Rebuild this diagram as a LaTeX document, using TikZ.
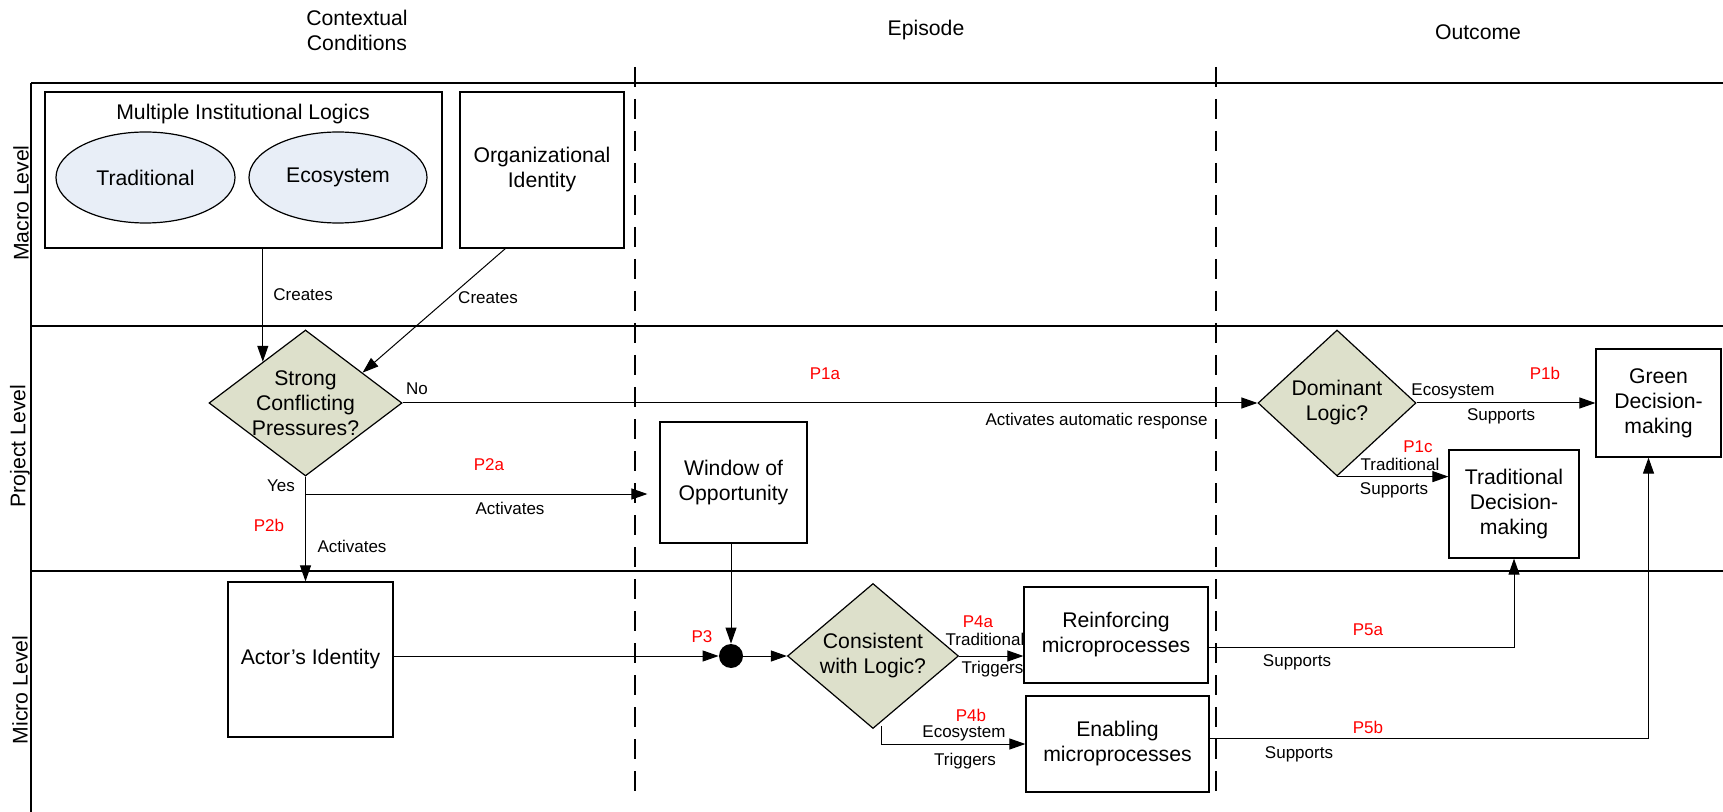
\documentclass[tikz,border=0pt]{standalone}
\usepackage{fontspec}
\setmainfont{Liberation Sans}
\usepackage{tikz}
\usetikzlibrary{arrows.meta,shapes.geometric}

\definecolor{decfill}{HTML}{DDE0CB}
\definecolor{logicfill}{HTML}{E8EEF7}

\begin{document}
\begin{tikzpicture}[x=0.5pt,y=-0.5pt,
    big/.style={font=\fontsize{10.6}{12.5}\selectfont, align=center},
    small/.style={font=\fontsize{8.5}{10}\selectfont, inner sep=0pt, text height=6.1pt, text depth=0pt},
    prop/.style={small, text=red},
    box/.style={draw, line width=0.6pt, inner sep=0pt, big},
    decision/.style={diamond, draw, line width=0.6pt, fill=decfill, inner sep=0pt},
    logic/.style={ellipse, draw, line width=0.6pt, fill=logicfill, inner sep=0pt, big},
    arr/.style={-{Triangle[length=8pt,width=5.5pt]}, line width=0.5pt},
    lane/.style={line width=0.9pt},
    phase/.style={dash pattern=on 10pt off 6pt, line width=0.6pt}]
    \useasboundingbox (0,0) rectangle (1723,812);
    % headings and lanes
    \node[big] (ctx) at (357,30.5) {Contextual\\Conditions};
    \node[big] (epi) at (926,30) {Episode};
    \node[big] (out) at (1478,32) {Outcome};
    \draw[lane] (31,83) -- (1723,83);
    \draw[lane] (31,326) -- (1723,326);
    \draw[lane] (31,571) -- (1723,571);
    \draw[lane] (31,83) -- (31,812);
    \draw[phase] (635,67) -- (635,798);
    \draw[phase] (1216,67) -- (1216,798);
    \node[big, rotate=90] (macro) at (21,203) {Macro Level};
    \node[big, rotate=90] (project) at (20,446) {Project Level};
    \node[big, rotate=90] (micro) at (20,690) {Micro Level};
    % macro level
    \node[box, minimum width=198.5pt, minimum height=78pt] (mil) at (243.5,170) {};
    \node[big] (miltxt) at (243,114) {Multiple Institutional Logics};
    \node[logic, minimum width=89.5pt, minimum height=45.5pt] (trad) at (145.5,177.5) {Traditional};
    \node[logic, minimum width=89pt, minimum height=45.5pt] (eco) at (338,177.5) {Ecosystem};
    \node[box, minimum width=82pt, minimum height=78pt] (org) at (542,170) {Organizational\\Identity};
    % project level
    \node[decision, minimum width=96.5pt, minimum height=73pt] (scp) at (305.5,403) {};
    \node[big] (scptxt) at (scp) {Strong\\Conflicting\\Pressures?};
    \node[box, minimum width=73.5pt, minimum height=60.5pt] (win) at (733.5,482.5) {Window of\\Opportunity};
    \node[decision, minimum width=79pt, minimum height=73pt] (dl) at (1337,403) {};
    \node[big] (dltxt) at (dl) {Dominant\\Logic?};
    \node[box, minimum width=65pt, minimum height=54pt] (tdm) at (1514,504) {Traditional\\Decision-\\making};
    \node[box, minimum width=62.5pt, minimum height=54pt] (gdm) at (1658.5,403) {Green\\Decision-\\making};
    % micro level
    \node[box, minimum width=82.5pt, minimum height=77.5pt] (actor) at (310.5,659.5) {Actor’s Identity};
    \node[circle, fill, inner sep=0pt, minimum size=12pt] (dot) at (731,656) {};
    \node[decision, minimum width=85.5pt, minimum height=72.5pt] (cwl) at (873,656) {};
    \node[big] (cwltxt) at (cwl) {Consistent\\with Logic?};
    \node[box, minimum width=92pt, minimum height=48pt] (reinf) at (1116,635) {Reinforcing\\microprocesses};
    \node[box, minimum width=91.5pt, minimum height=48pt] (enab) at (1117.5,744) {Enabling\\microprocesses};
    % connectors
    \draw[arr] (scp.136 |- mil.south) -- (scp.136);
    \draw[arr] (org.245) -- (scp.28);
    \draw[arr] (scp.east) -- (dl.west);
    \draw[arr] (scp.south) -- (scp.south |- actor.north);
    \coordinate (yes) at (305.5,494);
    \draw[arr, shorten >=6pt] (yes) -- (yes -| win.west);
    \draw[arr] (dl.east) -- (gdm.west);
    \draw[arr] (dl.south) -- (dl.south -| tdm.west);
    \draw[arr] (dot.north |- win.south) -- (dot.north);
    \draw[arr] (actor.east |- dot.west) -- (dot.west);
    \draw[arr] (dot.east) -- (cwl.west);
    \draw[arr] (cwl.east) -- (cwl.east -| reinf.west);
    \draw[arr] ([xshift=4pt,yshift=1.5pt]cwl.south) |- (enab.west);
    \draw[arr] ([yshift=-6pt]reinf.east) -| (tdm.south);
    \draw[arr] ([yshift=3pt]enab.east) -| ([xshift=-5pt]gdm.south);
    % connector labels
    \node[small, anchor=west] (cr1) at (273,294) {Creates};
    \node[small] (cr2) at (488,297) {Creates};
    \node[small] (no) at (417,388) {No};
    \node[prop] (p1a) at (825,373) {P1a};
    \node[small, anchor=east] (auto) at (1208,419) {Activates automatic response};
    \node[small] (yeslbl) at (281,485) {Yes};
    \node[prop] (p2a) at (489,464) {P2a};
    \node[small] (act1) at (510,508) {Activates};
    \node[prop] (p2b) at (269,525) {P2b};
    \node[small] (act2) at (352,546) {Activates};
    \node[prop] (p3) at (702,636) {P3};
    \node[prop] (p4a) at (978,621) {P4a};
    \node[small] (trad1) at (985,639) {Traditional};
    \node[small] (trig1) at (992.5,667) {Triggers};
    \node[prop] (p4b) at (971,715) {P4b};
    \node[small] (eco1) at (964,731) {Ecosystem};
    \node[small] (trig2) at (965,759) {Triggers};
    \node[prop] (p5a) at (1368,629) {P5a};
    \node[small] (sup1) at (1297,660) {Supports};
    \node[prop] (p5b) at (1368,727) {P5b};
    \node[small] (sup2) at (1299,752) {Supports};
    \node[small] (eco2) at (1453,389) {Ecosystem};
    \node[small] (sup3) at (1501,414) {Supports};
    \node[prop] (p1b) at (1545,373) {P1b};
    \node[prop] (p1c) at (1418,446) {P1c};
    \node[small] (trad2) at (1400,464) {Traditional};
    \node[small] (sup4) at (1394,488) {Supports};
\end{tikzpicture}
\end{document}
